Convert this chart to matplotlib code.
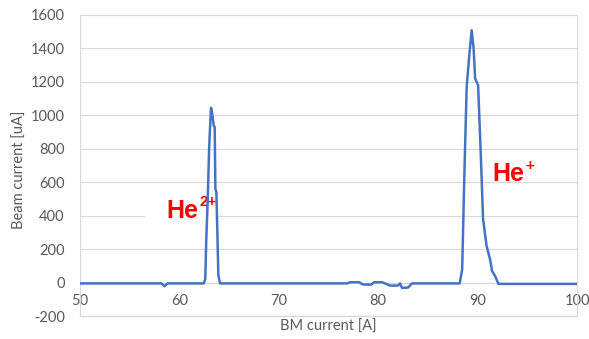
import matplotlib.pyplot as plt
from matplotlib.patches import Rectangle

# BM current [A]
bm_current = [50, 58.2, 58.5, 58.8, 62.45, 62.6, 62.7, 62.85, 63.0, 63.18, 63.3,
              63.45, 63.55, 63.62, 63.72, 63.82, 63.92, 64.1,
              76.9, 77.2, 78.1, 78.4, 78.6, 79.3, 79.6, 80.4, 80.8, 81.2,
              82.0, 82.2, 82.4, 83.0, 83.4,
              88.2, 88.45, 88.65, 88.9, 89.15, 89.4, 89.6, 89.75, 90.05,
              90.3, 90.55, 90.9, 91.25, 91.45, 91.75, 92.1, 100]
# Beam current [uA]
beam_current = [-5, -5, -22, -5, -5, 20, 250, 500, 820, 1045, 1010,
                940, 930, 560, 540, 300, 40, -5,
                -5, 2, 2, -10, -12, -12, 2, 2, -8, -18,
                -18, -5, -32, -30, -5,
                -5, 80, 600, 1170, 1350, 1509, 1400, 1220, 1180,
                800, 380, 220, 140, 70, 40, -8, -8]

xticks = [50, 60, 70, 80, 90, 100]
yticks = [-200, 0, 200, 400, 600, 800, 1000, 1200, 1400, 1600]

grey = '#595959'
gridc = '#d9d9d9'
plt.rcParams['font.family'] = ['Lato', 'DejaVu Sans']
plt.rcParams['axes.unicode_minus'] = False

fig = plt.figure(figsize=(5.89, 3.39), dpi=100)
ax = fig.add_axes([80/589, 23/339, 497/589, 301/339])

ax.plot(bm_current, beam_current, color='#4472C4', lw=1.8, zorder=3,
        solid_joinstyle='round')
ax.set_xlim(50, 100)
ax.set_ylim(-200, 1600)
ax.set_xticks(xticks)
ax.set_yticks(yticks)
ax.grid(axis='y', color=gridc, lw=0.8)
ax.set_axisbelow(True)

for s in ['left', 'right', 'top']:
    ax.spines[s].set_color(gridc)
    ax.spines[s].set_linewidth(0.8)
ax.spines['bottom'].set_position(('data', 0))
ax.spines['bottom'].set_color(gridc)
ax.plot([0, 1], [0, 0], transform=ax.transAxes, color=gridc, lw=1.0,
        clip_on=False, zorder=1)

ax.tick_params(axis='both', length=0, colors=grey, labelsize=10.5)
ax.tick_params(axis='y', pad=11)
ax.tick_params(axis='x', pad=8)

# white box behind the He2+ label
ax.add_patch(Rectangle((56.5, 300), 7.2, 180, facecolor='white',
                       edgecolor='none', zorder=1.5))

lab = ['Liberation Sans Narrow', 'Liberation Sans']


def ion_label(x, y, sup):
    t = ax.text(x, y, 'He', color='red', fontsize=18, fontweight='bold',
                family=lab, zorder=2)
    ax.annotate(sup, xy=(1, 1), xycoords=t, xytext=(0.5, 2.5),
                textcoords='offset points', ha='left', va='top',
                color='red', fontsize=11, fontweight='bold', family=lab,
                zorder=2)


ion_label(58.72, 389, '2+')
ion_label(91.52, 606, '+')

fig.text(328/589, 1 - 327/339, 'BM current [A]', color=grey, fontsize=10.5,
         ha='center', va='center')
fig.text(20/589, 1 - 170/339, 'Beam current [uA]', color=grey, fontsize=10.5,
         ha='center', va='center', rotation=90)

fig.savefig('out.png', dpi=100)
